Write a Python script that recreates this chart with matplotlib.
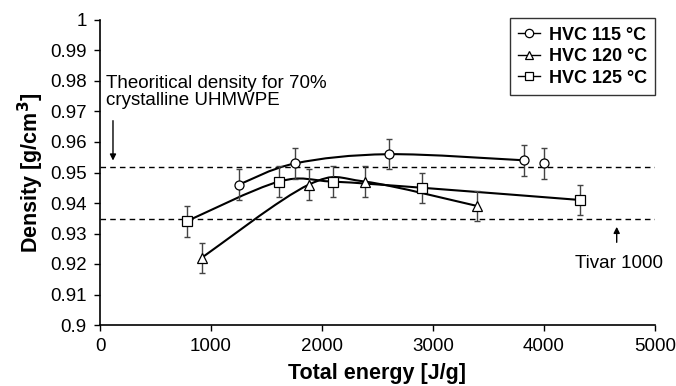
import matplotlib
matplotlib.use("Agg")
import matplotlib.pyplot as plt
from matplotlib.path import Path
from matplotlib.patches import PathPatch
from matplotlib.lines import Line2D
import numpy as np

plt.rcParams['font.family'] = ['Liberation Sans', 'DejaVu Sans']

# HVC 115 C (the last point at ~4000 J/g is not joined to the line)
e115 = [1250, 1760, 2600, 3820, 4000]
d115 = [0.946, 0.953, 0.956, 0.954, 0.953]
n115_line = 4
# HVC 120 C
e120 = [915, 1880, 2390, 3400]
d120 = [0.922, 0.946, 0.947, 0.939]
# HVC 125 C
e125 = [780, 1610, 2100, 2900, 4320]
d125 = [0.934, 0.947, 0.947, 0.945, 0.941]
err = 0.005

theory_density = 0.9518
tivar_density = 0.9348

labels = ['HVC 115 °C', 'HVC 120 °C', 'HVC 125 °C']
markers = ['o', '^', 's']


def smooth_path(x, y):
    # Bezier path through the points, like a spreadsheet "smoothed line"
    pts = np.column_stack([x, y]).astype(float)
    verts = [pts[0]]
    codes = [Path.MOVETO]
    n = len(pts)
    for i in range(n - 1):
        p0 = pts[i - 1] if i > 0 else pts[i]
        p1 = pts[i]
        p2 = pts[i + 1]
        p3 = pts[i + 2] if i + 2 < n else pts[i + 1]
        c1 = p1 + (p2 - p0) / 6.0
        c2 = p2 - (p3 - p1) / 6.0
        verts += [c1, c2, p2]
        codes += [Path.CURVE4] * 3
    return Path(verts, codes)


fig = plt.figure(figsize=(6.76, 3.86), dpi=100)
ax = fig.add_axes([100 / 676, 61 / 386, 555 / 676, 305 / 386])

ax.axhline(theory_density, color='black', lw=1, ls=(0, (4, 3)), zorder=1)
ax.axhline(tivar_density, color='black', lw=1, ls=(0, (4, 3)), zorder=1)

series = [(e115, d115, n115_line), (e120, d120, len(e120)), (e125, d125, len(e125))]
handles = []
for (xs, ys, nl), mk, lab in zip(series, markers, labels):
    ax.add_patch(PathPatch(smooth_path(xs[:nl], ys[:nl]), facecolor='none',
                           edgecolor='black', lw=1.5, zorder=2))
    ax.errorbar(xs, ys, yerr=err, fmt='none', ecolor='#444444', elinewidth=1,
                capsize=2.5, capthick=1, zorder=3)
    ax.plot(xs, ys, ls='none', marker=mk, ms=6.5, mfc='white', mec='black',
            mew=0.9, zorder=4)
    handles.append(Line2D([], [], color='black', lw=1, marker=mk, ms=6,
                          mfc='white', mec='black', mew=0.9, label=lab))

ax.set_xlim(0, 5000)
ax.set_ylim(0.9, 1.0)
ax.set_xticks(np.arange(0, 5001, 1000))
ax.set_yticks(np.arange(0.9, 1.0001, 0.01))
ax.set_yticklabels(['0.9', '0.91', '0.92', '0.93', '0.94', '0.95', '0.96',
                    '0.97', '0.98', '0.99', '1'])
ax.tick_params(direction='out', length=4.5, width=1, labelsize=13.5, pad=5)
for s in ['top', 'right']:
    ax.spines[s].set_visible(False)
for s in ['left', 'bottom']:
    ax.spines[s].set_linewidth(1.2)

ax.set_xlabel('Total energy [J/g]', fontsize=15.5, fontweight='bold', labelpad=5.5)
ax.set_ylabel('Density [g/cm$^\\mathbf{3}$]', fontsize=15.5, fontweight='bold', labelpad=3)

ax.text(54, 0.9764, 'Theoritical density for 70%\ncrystalline UHMWPE', fontsize=13.5,
        ha='left', va='center', linespacing=1.05)
ax.annotate('', xy=(117, theory_density + 0.0012), xytext=(117, 0.9679),
            arrowprops=dict(arrowstyle='-|>', color='black', lw=1, mutation_scale=9))
ax.text(4680, 0.920, 'Tivar 1000', fontsize=13.5, ha='center', va='center')
ax.annotate('', xy=(4655, tivar_density - 0.0017), xytext=(4655, 0.9262),
            arrowprops=dict(arrowstyle='-|>', color='black', lw=1, mutation_scale=9))

leg = ax.legend(handles=handles, loc='upper right', bbox_to_anchor=(1.0, 1.005),
                borderaxespad=0, handlelength=1.2, handletextpad=0.5,
                labelspacing=0.25, borderpad=0.45, fancybox=False, edgecolor='black',
                prop={'weight': 'bold', 'size': 13})
leg.get_frame().set_linewidth(1)

fig.savefig('out.png', dpi=100)
